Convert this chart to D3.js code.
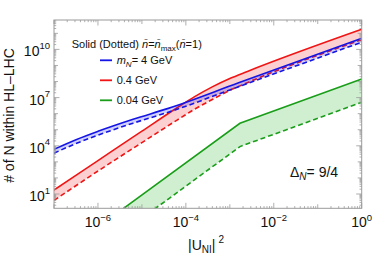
<!DOCTYPE html>
<html>
<head>
<meta charset="utf-8">
<script src="https://cdn.jsdelivr.net/npm/d3@7"></script>
<style>
  body { margin: 0; background: #fff; }
  svg { font-family: "Liberation Sans", Arial, sans-serif; }
</style>
</head>
<body>
<script>
// # of N within HL-LHC vs |U_NI|^2, log-log, values given as log10 exponents

// blue, m_N = 4 GeV
var blueU = [-7, -6.5, -6, -5.2, -4.4, -2.8, 0];
var blueSolid = [3.78, 4.38, 4.9, 5.65, 6.33, 7.92, 10.69];
var blueDotted = [3.54, 4.14, 4.66, 5.41, 6.09, 7.68, 10.45];

// red, 0.4 GeV
var redU = [-7, -6, -5, -4.2, -3.8, -3.4, -3.0, -2.6, 0];
var redSolid = [1.25, 3.08, 4.91, 6.37, 7.06, 7.67, 8.19, 8.63, 11.25];
var redDotted = [0.6, 2.43, 4.2, 5.6, 6.28, 6.88, 7.45, 7.93, 10.6];

// green, 0.04 GeV
var greenU = [-5.6, -2.77, 0];
var greenSolid = [-0.26, 5.4, 8.16];
var greenDotted = [-1.71, 3.95, 6.71];

var xLabelExp = [-6, -4, -2, 0];
var yLabelExp = [1, 4, 7, 10];
var legendLabels = ["4 GeV", "0.4 GeV", "0.04 GeV"];

drawChart();

function drawChart(){
    var width = 374, height = 255;
    var pLeft = 54, pRight = 361.7, pTop = 20, pBottom = 208.3;

    var svg = d3.select("body").append("svg")
        .attr("width", width)
        .attr("height", height);

    var x = d3.scaleLog().domain([1e-7, 1]).range([pLeft, pRight]);
    var y = d3.scaleLog().domain([Math.pow(10, 0.11), Math.pow(10, 11.83)]).range([pBottom, pTop]);

    svg.append("clipPath").attr("id", "plot")
        .append("rect")
        .attr("x", pLeft).attr("y", pTop)
        .attr("width", pRight - pLeft).attr("height", pBottom - pTop);

    var plot = svg.append("g").attr("clip-path", "url(#plot)");

    function drawBand(us, solid, dotted, color, fill, curve){
        var data = us.map(function(u, i){
            return {u: Math.pow(10, u), s: Math.pow(10, solid[i]), d: Math.pow(10, dotted[i])};
        });
        var area = d3.area()
            .x(function(d){ return x(d.u); })
            .y0(function(d){ return y(d.d); })
            .y1(function(d){ return y(d.s); })
            .curve(curve);
        plot.append("path").datum(data)
            .attr("d", area)
            .attr("fill", fill)
            .attr("stroke", "none");

        var lineS = d3.line().x(function(d){ return x(d.u); }).y(function(d){ return y(d.s); }).curve(curve);
        var lineD = d3.line().x(function(d){ return x(d.u); }).y(function(d){ return y(d.d); }).curve(curve);
        plot.append("path").datum(data)
            .attr("d", lineD)
            .attr("fill", "none")
            .attr("stroke", color)
            .attr("stroke-width", 1.6)
            .attr("stroke-dasharray", "5,3");
        plot.append("path").datum(data)
            .attr("d", lineS)
            .attr("fill", "none")
            .attr("stroke", color)
            .attr("stroke-width", 1.6);
    }

    drawBand(greenU, greenSolid, greenDotted, "#1a9e1a", "rgba(40,180,40,0.22)", d3.curveLinear);
    drawBand(redU, redSolid, redDotted, "#f01414", "rgba(240,40,40,0.22)", d3.curveMonotoneX);
    drawBand(blueU, blueSolid, blueDotted, "#1414e6", "rgba(40,40,240,0.22)", d3.curveMonotoneX);

    //frame
    svg.append("rect")
        .attr("x", pLeft).attr("y", pTop)
        .attr("width", pRight - pLeft).attr("height", pBottom - pTop)
        .attr("fill", "none")
        .attr("stroke", "#9a9a9a")
        .attr("stroke-width", 1);

    //ticks on all four sides
    var ticks = svg.append("g").attr("stroke", "#9a9a9a").attr("stroke-width", 0.8);

    function tickLen(e, m, labelled){
        if (m === 1) return labelled.indexOf(e) >= 0 ? 5.5 : 4;
        return 2.2;
    }

    for (var e = -7; e <= 0; e++){
        for (var m = 1; m <= 9; m++){
            var v = m * Math.pow(10, e);
            if (v > 1.0001) continue;
            var px = x(v), len = tickLen(e, m, xLabelExp);
            ticks.append("line").attr("x1", px).attr("x2", px).attr("y1", pBottom).attr("y2", pBottom - len);
            ticks.append("line").attr("x1", px).attr("x2", px).attr("y1", pTop).attr("y2", pTop + len);
        }
    }
    for (var e2 = 0; e2 <= 11; e2++){
        for (var m2 = 1; m2 <= 9; m2++){
            var py = y(m2 * Math.pow(10, e2));
            if (py < pTop - 0.1 || py > pBottom + 0.1) continue;
            var len2 = tickLen(e2, m2, yLabelExp);
            ticks.append("line").attr("y1", py).attr("y2", py).attr("x1", pLeft).attr("x2", pLeft + len2);
            ticks.append("line").attr("y1", py).attr("y2", py).attr("x1", pRight).attr("x2", pRight - len2);
        }
    }

    //tick labels
    xLabelExp.forEach(function(e){
        var t = svg.append("text")
            .attr("x", x(Math.pow(10, e)))
            .attr("y", 227)
            .attr("text-anchor", "middle")
            .attr("font-size", 14)
            .attr("fill", "#111");
        t.append("tspan").text("10");
        t.append("tspan").attr("dy", -6.5).attr("font-size", 9.5).text(e === 0 ? "0" : "\u2212" + (-e));
    });

    yLabelExp.forEach(function(e){
        var t = svg.append("text")
            .attr("x", 50)
            .attr("y", y(Math.pow(10, e)) + 7)
            .attr("text-anchor", "end")
            .attr("font-size", 14)
            .attr("fill", "#111");
        t.append("tspan").text("10");
        t.append("tspan").attr("dy", -7.5).attr("font-size", 9.5).text(e);
    });

    //axis titles
    svg.append("text")
        .attr("transform", "translate(14,115.5) rotate(-90)")
        .attr("text-anchor", "middle")
        .attr("font-size", 14)
        .attr("fill", "#111")
        .text("# of N within HL\u2013LHC");

    var xt = svg.append("text")
        .attr("x", 188).attr("y", 250)
        .attr("font-size", 14)
        .attr("fill", "#111");
    xt.append("tspan").text("|U");
    xt.append("tspan").attr("dy", 3).attr("font-size", 10).text("NI");
    xt.append("tspan").attr("dy", -3).text("|");
    xt.append("tspan").attr("dy", -7).attr("dx", 3).attr("font-size", 10).text("2");

    //Delta_N label
    var dl = svg.append("text")
        .attr("x", 290).attr("y", 177)
        .attr("font-size", 14)
        .attr("fill", "#111");
    dl.append("tspan").text("\u0394");
    dl.append("tspan").attr("dy", 3).attr("font-size", 10).attr("font-style", "italic").text("N");
    dl.append("tspan").attr("dy", -3).text("= 9/4");

    //legend
    var lg = svg.append("g").attr("font-size", 11).attr("fill", "#111");
    var head = lg.append("text").attr("x", 71.7).attr("y", 48.3);
    head.append("tspan").text("Solid (Dotted) ");
    head.append("tspan").attr("font-style", "italic").text("n\u0304");
    head.append("tspan").text("=");
    head.append("tspan").attr("font-style", "italic").text("n\u0304");
    head.append("tspan").attr("dy", 2.5).attr("font-size", 8).text("max");
    head.append("tspan").attr("dy", -2.5).text("(");
    head.append("tspan").attr("font-style", "italic").text("n\u0304");
    head.append("tspan").text("=1)");

    var legendColors = ["#1414e6", "#f01414", "#1a9e1a"];
    legendLabels.forEach(function(lab, i){
        var ly = 60.3 + i * 20;
        lg.append("line")
            .attr("x1", 100).attr("x2", 112)
            .attr("y1", ly).attr("y2", ly)
            .attr("stroke", legendColors[i])
            .attr("stroke-width", 1.8);
        var t = lg.append("text").attr("x", 116.7).attr("y", ly + 4);
        if (i === 0){
            t.append("tspan").attr("font-style", "italic").text("m");
            t.append("tspan").attr("dy", 2.5).attr("font-size", 8).attr("font-style", "italic").text("N");
            t.append("tspan").attr("dy", -2.5).text("= " + lab);
        } else {
            t.text(lab);
        }
    });
}
</script>
</body>
</html>
